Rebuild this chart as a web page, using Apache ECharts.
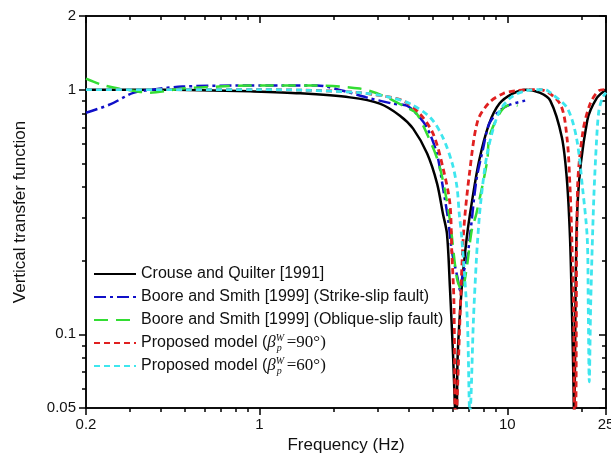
<!DOCTYPE html>
<html>
<head>
<meta charset="utf-8">
<script src="https://cdn.jsdelivr.net/npm/echarts@6/dist/echarts.min.js"></script>
<style>
  html, body { margin: 0; padding: 0; background: #fff; }
  #main { width: 611px; height: 467px; }
</style>
</head>
<body>
<div id="main"></div>
<script>
// tick values
var xMajor = [0.2, 1, 10, 25]
var xMinor = [0.3, 0.4, 0.5, 0.6, 0.7, 0.8, 0.9, 2, 3, 4, 5, 6, 7, 8, 9, 20]
var yMajor = [0.05, 0.1, 1, 2]
var yMinor = [0.06, 0.07, 0.08, 0.09, 0.2, 0.3, 0.4, 0.5, 0.6, 0.7, 0.8, 0.9]

// Crouse and Quilter [1991]
var blackF = [0.2, 0.36, 0.58, 0.92, 1.46, 2.32, 3.06, 3.69, 4.17, 4.75, 5.21, 5.5, 5.71, 5.87, 6.04, 6.15, 6.2, 6.26, 6.31, 6.55, 6.86, 7.18, 7.7, 8.45, 9.3, 10.5, 11.9, 13.5, 14.9, 16.6, 17.4, 17.9, 18.2, 18.5, 18.6, 18.7, 19.2, 21.0, 23.0, 25]
var blackV = [1.0, 1.0, 0.995, 0.984, 0.966, 0.93, 0.877, 0.783, 0.693, 0.548, 0.413, 0.311, 0.258, 0.155, 0.083, 0.05, 0.04, 0.05, 0.083, 0.155, 0.248, 0.342, 0.513, 0.726, 0.877, 0.963, 1.0, 0.972, 0.902, 0.637, 0.425, 0.248, 0.133, 0.06, 0.04, 0.06, 0.342, 0.747, 0.927, 1.0]

// Boore and Smith [1999] strike-slip
var blueF = [0.2, 0.25, 0.31, 0.37, 0.49, 0.92, 1.24, 1.71, 2.17, 2.7, 3.45, 3.93, 4.3, 4.74, 5.2, 5.5, 5.78, 5.97, 6.3, 6.45, 6.6, 6.86, 7.06, 7.5, 8.0, 8.45, 9.3, 10.3, 11.8]
var blueV = [0.805, 0.87, 0.97, 1.0, 1.03, 1.04, 1.04, 1.04, 0.99, 0.93, 0.877, 0.86, 0.798, 0.70, 0.548, 0.398, 0.292, 0.22, 0.17, 0.151, 0.174, 0.2, 0.248, 0.425, 0.579, 0.726, 0.82, 0.87, 0.902]

// Boore and Smith [1999] oblique-slip
var greenF = [0.2, 0.23, 0.27, 0.31, 0.36, 0.49, 0.69, 0.92, 1.6, 2.54, 3.15, 3.93, 4.3, 4.74, 5.2, 5.5, 5.87, 6.26, 6.55, 6.86, 7.18, 7.5, 8.3, 8.45, 9.1, 9.6, 10.0, 10.5, 11.0]
var greenV = [1.11, 1.05, 1.01, 0.99, 0.972, 1.01, 1.03, 1.04, 1.04, 1.01, 0.945, 0.844, 0.80, 0.66, 0.527, 0.425, 0.292, 0.17, 0.151, 0.187, 0.265, 0.311, 0.513, 0.637, 0.768, 0.836, 0.86, 0.868, 0.86]

// Proposed model 90 deg
var redF = [0.2, 0.5, 1.0, 1.5, 2.3, 3.0, 3.79, 4.43, 5.02, 5.5, 5.87, 5.97, 6.09, 6.15, 6.2, 6.3, 6.45, 6.67, 7.06, 7.6, 8.45, 9.6, 10.9, 12.3, 13.5, 16.3, 17.4, 17.9, 18.2, 18.5, 18.7, 18.9, 19.2, 20.2, 21.6, 23.4, 25]
var redV = [1.0, 1.0, 1.0, 0.995, 0.98, 0.95, 0.902, 0.798, 0.661, 0.48, 0.342, 0.22, 0.137, 0.05, 0.04, 0.06, 0.12, 0.265, 0.467, 0.747, 0.885, 0.963, 0.99, 1.0, 1.0, 0.877, 0.637, 0.398, 0.248, 0.125, 0.04, 0.05, 0.398, 0.68, 0.877, 0.99, 1.0]

// Proposed model 60 deg
var cyanF = [0.2, 0.5, 1.0, 1.5, 2.54, 3.37, 4.04, 4.9, 5.5, 6.0, 6.27, 6.4, 6.55, 6.9, 7.06, 7.13, 7.3, 7.5, 7.6, 7.8, 8.3, 9.2, 10.3, 11.9, 14.2, 14.9, 17.4, 19.0, 20.1, 21.0, 21.2, 21.4, 21.7, 22.3, 22.9, 23.4, 24.2, 25]
var cyanV = [1.0, 1.0, 1.0, 0.995, 0.972, 0.93, 0.877, 0.768, 0.637, 0.498, 0.398, 0.311, 0.248, 0.114, 0.048, 0.054, 0.114, 0.2, 0.248, 0.342, 0.548, 0.798, 0.927, 0.99, 1.0, 0.972, 0.844, 0.637, 0.398, 0.248, 0.133, 0.064, 0.137, 0.35, 0.62, 0.82, 0.927, 0.972]

var names = [
  'Crouse and Quilter [1991]',
  'Boore and Smith [1999] (Strike-slip fault)',
  'Boore and Smith [1999] (Oblique-slip fault)',
  'Proposed model 90',
  'Proposed model 60'
]

function pairs (fs, vs) {
  return fs.map(function (f, i) { return [f, vs[i]] })
}

var FONT = '"Liberation Sans", Arial, sans-serif'
var SERIF = '"Liberation Serif", "Times New Roman", serif'

function xAx (pos, values, len, inside, labels) {
  return {
    type: 'log', min: 0.2, max: 25, position: pos,
    axisLine: { show: true, lineStyle: { color: '#000', width: 1.5 } },
    axisTick: { show: true, inside: inside, length: len, customValues: values, lineStyle: { color: '#000', width: 1.5 } },
    axisLabel: labels ? { show: true, customValues: xMajor, margin: 9, color: '#111', fontSize: 15, fontFamily: FONT,
      formatter: function (v) { return String(+v.toPrecision(3)) } } : { show: false },
    splitLine: { show: false }
  }
}
function yAx (pos, values, len, inside, labels) {
  return {
    type: 'log', min: 0.05, max: 2, position: pos,
    axisLine: { show: true, lineStyle: { color: '#000', width: 1.5 } },
    axisTick: { show: true, inside: inside, length: len, customValues: values, lineStyle: { color: '#000', width: 1.5 } },
    axisLabel: labels ? { show: true, customValues: yMajor, margin: 10, color: '#111', fontSize: 15, fontFamily: FONT,
      formatter: function (v) { return String(+v.toPrecision(3)) } } : { show: false },
    splitLine: { show: false }
  }
}

var xAxes = [
  xAx('bottom', xMajor, 7, false, true),
  xAx('bottom', xMinor, 4, false, false),
  xAx('top', xMajor, 7, true, false),
  xAx('top', xMinor, 4, true, false)
]
xAxes[0].name = 'Frequency (Hz)'
xAxes[0].nameLocation = 'middle'
xAxes[0].nameGap = 29
xAxes[0].nameTextStyle = { fontSize: 17, fontFamily: FONT, color: '#111' }

var yAxes = [
  yAx('left', yMajor, 7, false, true),
  yAx('left', yMinor, 4, false, false),
  yAx('right', yMajor, 7, true, false),
  yAx('right', yMinor, 4, true, false)
]
yAxes[0].name = 'Vertical transfer function'
yAxes[0].nameLocation = 'middle'
yAxes[0].nameGap = 57
yAxes[0].nameTextStyle = { fontSize: 17, fontFamily: FONT, color: '#111' }

function line (name, data, color, type, width) {
  return {
    name: name, type: 'line', data: data, xAxisIndex: 0, yAxisIndex: 0,
    showSymbol: false, symbol: 'none', smooth: 0.3, clip: true,
    lineStyle: { color: color, width: width, type: type },
    itemStyle: { color: color }
  }
}

var myChart = echarts.init(document.getElementById('main'), null, { renderer: 'canvas' })
var option = {
  animation: false,
  backgroundColor: '#fff',
  grid: { left: 86, right: 5, top: 16, bottom: 59, containLabel: false, outerBoundsMode: 'none' },
  xAxis: xAxes,
  yAxis: yAxes,
  legend: {
    orient: 'vertical', left: 93, top: 264, itemWidth: 42, itemHeight: 14, itemGap: 3, padding: 0,
    itemStyle: { opacity: 0, color: 'rgba(0,0,0,0)', borderColor: 'rgba(0,0,0,0)', borderWidth: 0 },
    textStyle: {
      fontSize: 16, fontFamily: FONT, color: '#111', lineHeight: 20,
      rich: {
        a: { fontSize: 16, fontFamily: FONT, color: '#111', lineHeight: 20 },
        b: { fontSize: 17, fontFamily: SERIF, fontStyle: 'italic', color: '#111', lineHeight: 20 },
        sup: { fontSize: 10, fontFamily: SERIF, fontStyle: 'italic', color: '#111', verticalAlign: 'top', width: 1 },
        sub: { fontSize: 10, fontFamily: SERIF, fontStyle: 'italic', color: '#111', verticalAlign: 'bottom' },
        n: { fontSize: 17, fontFamily: SERIF, color: '#111', lineHeight: 20 }
      }
    },
    formatter: function (name) {
      if (name === names[3]) return '{a|Proposed model (}{b|β}{sup|W}{sub|p  }{n|=90°)}'
      if (name === names[4]) return '{a|Proposed model (}{b|β}{sup|W}{sub|p  }{n|=60°)}'
      return '{a|' + name + '}'
    },
    data: names
  },
  series: [
    line(names[0], pairs(blackF, blackV), '#000000', 'solid', 2.5),
    line(names[1], pairs(blueF, blueV), '#1010c8', [12, 4, 3, 4], 2.5),
    line(names[2], pairs(greenF, greenV), '#33dd33', [14, 8], 2.5),
    line(names[3], pairs(redF, redV), '#e02020', [6, 4], 2.8),
    line(names[4], pairs(cyanF, cyanV), '#3ee6ee', [6, 4], 2.8)
  ]
}
myChart.setOption(option)
</script>
</body>
</html>
